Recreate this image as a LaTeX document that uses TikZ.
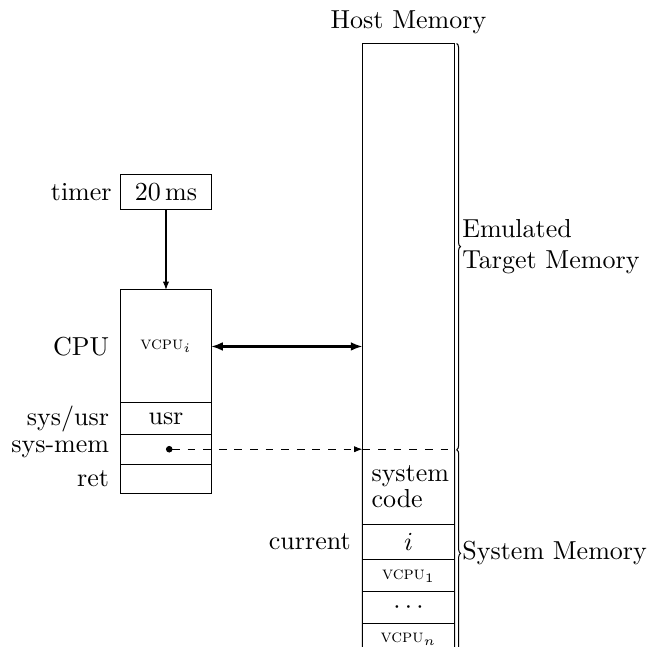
\documentclass[tikz,border=0pt]{standalone}
\usetikzlibrary{positioning, arrows.meta, decorations.pathreplacing}

\begin{document}
\begin{tikzpicture}[
    cell/.style={draw, minimum width=1.22cm, outer sep=0pt},
    slot/.style={minimum width=1.23cm},
    tag/.style={label distance=1pt},
    arrow/.style={-{Latex[length=3.2pt]}},
    bigarrow/.style={{Latex[length=4.5pt]}-{Latex[length=4.5pt]}, thick},
    brace/.style={decorate, decoration={brace, amplitude=1.5pt}},
]
\useasboundingbox (0,0) rectangle (8.797,8.730);

% Timer and CPU registers
\node[cell, minimum height=0.46cm, label=left:timer] (timer) at (2.243,6.135) {20\,ms};
\node[cell, minimum height=1.527cm, label={[tag]left:CPU}] (vcpu) at (2.243,4.048) {\scriptsize\textsc{vcpu}$_i$};
\node[cell, minimum height=0.42cm, below=0pt of vcpu, label={[tag]left:sys/usr}] (usr) {usr};
\node[cell, minimum height=0.41cm, below=0pt of usr, label={[tag]left:sys-mem}] (smem) {};
\node[cell, minimum height=0.39cm, below=0pt of smem, label={[tag]left:ret}] (ret) {};

% Host memory
\node[slot, minimum height=5.477cm, label=above:Host Memory] (emu) at (5.52,5.3965) {};
\node[slot, minimum height=0.992cm, text width=1cm, align=left, below=0pt of emu] (sys) {system\\[-2pt]code};
\node[slot, minimum height=0.467cm, below=0pt of sys, label={[tag]left:current}] (cur) {$i$};
\node[slot, minimum height=0.419cm, below=0pt of cur] (vone) {\scriptsize\textsc{vcpu}$_1$};
\node[slot, minimum height=0.415cm, below=0pt of vone] (dots) {$\cdots$};
\node[slot, minimum height=0.345cm, below=0pt of dots] (vn) {\scriptsize\textsc{vcpu}$_n$};

\draw (emu.south west) -- (emu.north west) -- (emu.north east) -- (emu.south east);
\draw (sys.north west) -- ([yshift=-1pt]vn.south west) (sys.north east) -- ([yshift=-1pt]vn.south east);
\foreach \c in {sys, cur, vone, dots} {
    \draw (\c.south west) -- (\c.south east);
}
\draw[dashed] (emu.south west) -- (emu.south east);

% Connections
\draw[arrow] (timer) -- (vcpu);
\draw[bigarrow] (vcpu.east) -- (vcpu.east -| emu.west);
\draw[dashed, {Circle[length=2.5pt]}-{Latex[length=3.2pt]}] (smem.center) -- (smem.center -| emu.west);

% Braces
\draw[brace] ([xshift=0.8pt]emu.north east) -- ([xshift=0.8pt]emu.south east)
    node[midway, right, inner xsep=2pt, align=left] (emulbl) {Emulated\\Target Memory};
\draw[brace] ([xshift=0.8pt]sys.north east) -- ([xshift=0.8pt, yshift=-1pt]vn.south east)
    node[midway, right, inner xsep=2pt] (syslbl) {System Memory};

\end{tikzpicture}
\end{document}
